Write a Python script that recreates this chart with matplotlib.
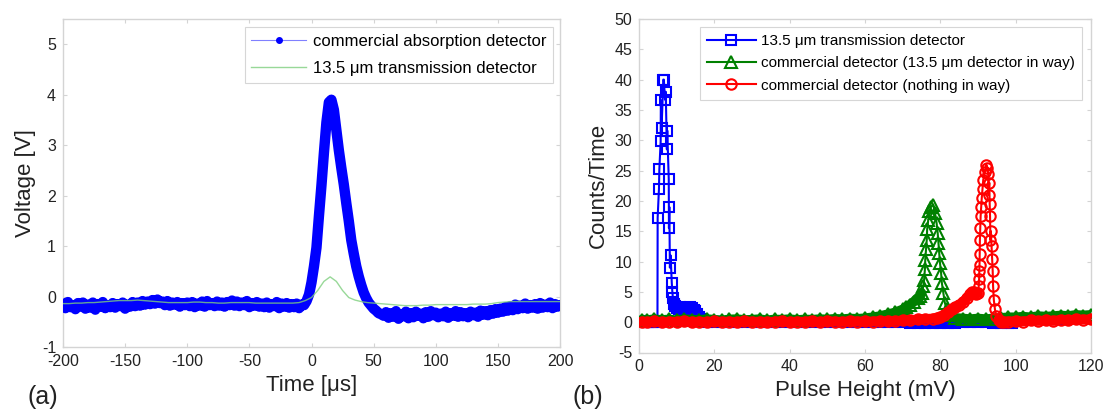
import numpy as np
import matplotlib
matplotlib.use("Agg")
import matplotlib.pyplot as plt

plt.rcParams['font.family'] = ['Liberation Sans', 'DejaVu Sans']
plt.rcParams['axes.unicode_minus'] = False

# ---------------- Panel (a) data ----------------
time_us = np.arange(-200, 201, 2)
volt_commercial = [
    -0.14, -0.23, -0.11, -0.21, -0.17, -0.25, -0.13, -0.20, -0.12, -0.24,
    -0.16, -0.22, -0.12, -0.26, -0.15, -0.20, -0.11, -0.23, -0.17, -0.21,
    -0.13, -0.22, -0.15, -0.19, -0.12, -0.24, -0.16, -0.20, -0.11, -0.19,
    -0.12, -0.18, -0.09, -0.16, -0.10, -0.15, -0.07, -0.14, -0.06, -0.13,
    -0.10, -0.17, -0.09, -0.18, -0.12, -0.16, -0.11, -0.20, -0.13, -0.17,
    -0.12, -0.19, -0.11, -0.21, -0.14, -0.18, -0.10, -0.20, -0.09, -0.17,
    -0.13, -0.19, -0.10, -0.18, -0.12, -0.20, -0.11, -0.17, -0.08, -0.18,
    -0.10, -0.19, -0.12, -0.17, -0.09, -0.21, -0.13, -0.18, -0.11, -0.20,
    -0.14, -0.21, -0.12, -0.22, -0.15, -0.19, -0.11, -0.23, -0.14, -0.20,
    -0.13, -0.22, -0.15, -0.21, -0.14, -0.23, -0.16, -0.17, -0.09, 0.04,
    0.28, 0.60, 0.97, 1.60, 2.20, 2.85, 3.45, 3.85, 3.90, 3.70,
    3.30, 2.90, 2.55, 2.22, 1.85, 1.50, 1.12, 0.85, 0.60, 0.40,
    0.23, 0.08, -0.03, -0.12, -0.18, -0.24, -0.28, -0.33, -0.35, -0.38,
    -0.31, -0.42, -0.33, -0.40, -0.29, -0.44, -0.35, -0.39, -0.30, -0.43,
    -0.33, -0.41, -0.30, -0.38, -0.34, -0.43, -0.31, -0.40, -0.29, -0.37,
    -0.32, -0.41, -0.34, -0.39, -0.30, -0.42, -0.33, -0.38, -0.29, -0.40,
    -0.31, -0.39, -0.33, -0.41, -0.30, -0.37, -0.32, -0.40, -0.28, -0.36,
    -0.29, -0.37, -0.27, -0.34, -0.25, -0.32, -0.24, -0.30, -0.21, -0.28,
    -0.19, -0.27, -0.16, -0.25, -0.18, -0.23, -0.14, -0.24, -0.17, -0.22,
    -0.15, -0.24, -0.13, -0.22, -0.16, -0.21, -0.12, -0.23, -0.15, -0.20,
    -0.17,
]
time_green = np.arange(-200, 201, 5)
volt_transmission = [
    -0.14, -0.14, -0.13, -0.13, -0.12, -0.12, -0.11, -0.10, -0.09, -0.08,
    -0.08, -0.08, -0.07, -0.08, -0.09, -0.10, -0.11, -0.12, -0.12, -0.12,
    -0.12, -0.11, -0.11, -0.12, -0.12, -0.13, -0.13, -0.12, -0.12, -0.12,
    -0.12, -0.13, -0.13, -0.13, -0.13, -0.13, -0.13, -0.13, -0.12, -0.08,
    -0.02, 0.12, 0.30, 0.39, 0.30, 0.12, -0.02, -0.07, -0.10, -0.12,
    -0.13, -0.14, -0.15, -0.16, -0.17, -0.18, -0.18, -0.18, -0.17, -0.17,
    -0.16, -0.16, -0.16, -0.16, -0.16, -0.16, -0.15, -0.15, -0.15, -0.14,
    -0.12, -0.11, -0.10, -0.10, -0.10, -0.10, -0.10, -0.10, -0.10, -0.10,
    -0.10,
]
legend_a = ['commercial absorption detector', '13.5 \u03bcm transmission detector']

# ---------------- Panel (b) data ----------------
ph_trans = ([0.5, 1.5, 2.5, 3.5, 4.5, 4.9, 4.95, 5.3, 5.4, 5.75, 5.8, 6.0, 6.45, 6.6,
             6.9, 7.1, 7.4, 7.5, 7.9, 7.95, 8.05, 8.2, 8.4, 8.7, 8.85, 9.0, 9.2, 9.5,
             10, 10.5, 11, 11.5, 12, 12.5, 13, 13.5, 14, 14.5, 15, 15.5, 16, 16.5, 17]
            + list(np.arange(18, 99, 2)) + [99] + list(np.arange(100, 121, 2)) + [121])
cnt_trans = ([0.2, 0.0, 0.1, 0.0, 0.1, 0.0, 17.2, 22.0, 25.2, 29.8, 36.6, 32.1, 40.0, 40.0,
              36.7, 38.0, 28.5, 31.6, 23.6, 15.5, 19.0, 9.0, 11.0, 6.5, 5.0, 4.0, 3.0, 2.6,
              2.4, 2.2, 2.5, 2.3, 2.1, 2.4, 2.2, 2.5, 2.3, 2.0, 1.8, 1.3, 0.9, 0.6, 0.3]
             + [0.1, 0.0, 0.05, -0.05, 0.0, 0.05, -0.05, 0.0, 0.05, -0.05,
                0.0, 0.05, -0.05, 0.0, 0.05, -0.05, 0.0, 0.05, -0.05, 0.0,
                -0.05, 0.0, -0.05, 0.0, -0.05, -0.05, 0.0, -0.1, -0.15, -0.1,
                -0.15, -0.1, -0.15, -0.1, -0.05, -0.05, 0.0, -0.05, -0.1, -0.15,
                -0.2]
             + [-0.2]
             + [0.5, 0.6, 0.5, 0.7, 0.6, 0.7, 0.6, 0.8, 0.7, 0.8, 0.9] + [1.0])

ph_comm_way = ([0.7] + list(np.arange(2, 59, 2))
               + [60, 62, 64, 66, 68, 70, 71, 72, 73, 74, 74.6, 75.0,
                  75.5, 75.7, 75.9, 76.0, 76.2, 76.4, 76.5, 76.8, 77.1, 77.5, 78.1,
                  78.6, 79.0, 79.3, 79.5, 79.7, 79.9, 80.2, 80.4, 80.8, 81.2, 81.7, 82.5]
               + list(np.arange(84, 99, 2)) + list(np.arange(100, 121, 2)) + [121])
cnt_comm_way = ([0.4, 0.3, 0.5, 0.35, 0.45, 0.3, 0.5, 0.4, 0.35, 0.5,
                 0.4, 0.3, 0.45, 0.5, 0.35, 0.4, 0.5, 0.3, 0.45, 0.4,
                 0.5, 0.35, 0.45, 0.4, 0.5, 0.45, 0.55, 0.5, 0.6, 0.55]
                + [0.65, 0.8, 1.0, 1.3, 1.6, 2.1, 2.5, 2.9, 3.4, 4.0, 4.4, 4.8,
                   6.0, 7.0, 8.7, 10.3, 12.0, 13.6, 15.3, 16.9, 18.3, 19.0, 19.4,
                   18.0, 16.4, 14.7, 13.1, 11.4, 9.8, 8.1, 6.5, 4.8, 3.2, 2.1, 1.2]
                + [0.7, 0.6, 0.5, 0.6, 0.5, 0.6, 0.7, 0.8]
                + [0.8, 0.9, 0.8, 1.0, 0.9, 1.0, 1.1, 1.0, 1.2, 1.1, 1.2] + [1.1])

ph_comm_free = ([0.7] + list(np.arange(2, 67, 2))
                + [68, 70, 72, 74, 76, 78, 79, 80, 81, 82, 83, 84, 85, 86, 87, 88, 88.5, 89, 89.5, 90,
                   90.2, 90.3, 90.35, 90.4, 90.45, 90.5, 90.6, 90.7, 90.85, 91.0, 91.2, 91.4, 91.8, 92.2,
                   92.5, 92.7, 92.8, 93.0, 93.1, 93.2, 93.3, 93.4, 93.6, 93.75, 93.9, 94.0, 94.2, 94.5, 94.9, 95.5]
                + [96, 97, 98] + list(np.arange(100, 121, 2)) + [121])
cnt_comm_free = ([0.1, 0.0, 0.15, -0.05, 0.1, 0.05, 0.2, 0.0, 0.1, -0.05,
                  0.15, 0.05, 0.1, 0.0, 0.2, 0.05, 0.1, -0.05, 0.1, 0.15,
                  0.0, 0.1, 0.05, 0.2, 0.0, 0.15, 0.1, 0.05, 0.2, 0.1,
                  0.15, 0.1, 0.2, 0.15]
                 + [0.2, 0.3, 0.35, 0.45, 0.55, 0.6, 0.7, 0.8, 1.2, 1.6, 2.1, 2.5, 2.8, 3.3, 4.0, 4.7, 5.0, 4.9, 4.6, 4.8,
                    6.0, 7.2, 8.5, 9.5, 11.3, 13.5, 15.5, 17.5, 19.0, 20.5, 22.0, 23.5, 24.8, 26.0,
                    25.5, 24.5, 21.0, 23.0, 19.5, 17.5, 13.5, 15.0, 12.5, 10.5, 8.5, 6.0, 3.7, 2.1, 1.0, 0.3]
                 + [0.1, 0.0, 0.1]
                 + [0.2, 0.1, 0.3, 0.2, 0.3, 0.2, 0.4, 0.3, 0.5, 0.4, 0.5] + [0.5])

legend_b = ['13.5 \u03bcm transmission detector',
            'commercial detector (13.5 \u03bcm detector in way)',
            'commercial detector (nothing in way)']

# ---------------- Figure ----------------
W, H = 1103, 412
fig = plt.figure(figsize=(W / 100, H / 100), dpi=100)
text_col = '#222222'
spine_col = '#d4d4d4'


def style_axes(ax):
    for s in ax.spines.values():
        s.set_color(spine_col)
        s.set_linewidth(1.0)
    ax.tick_params(direction='in', length=3, width=0.8, color=spine_col,
                   top=True, right=True, labelsize=11.5, labelcolor=text_col, pad=5)


# Panel (a)
ax1 = fig.add_axes([63 / W, 1 - 347 / H, (560 - 63) / W, (347 - 19) / H])
ax1.plot(time_us, volt_commercial, color='#8080ff', lw=0.8, marker='.', ms=8,
         mfc='#0000ff', mec='#0000ff', label=legend_a[0], zorder=2)
ax1.plot(time_us, volt_commercial, color='#0000ff', lw=7.5, solid_joinstyle='round',
         solid_capstyle='round', zorder=3)
ax1.plot(time_green, volt_transmission, color='#7fcf7f', lw=1.0, alpha=0.8,
         label=legend_a[1], zorder=4)
ax1.set_xlim(-200, 200)
ax1.set_ylim(-1, 5.5)
ax1.set_xticks(np.arange(-200, 201, 50))
ax1.set_yticks(np.arange(-1, 6, 1))
style_axes(ax1)
ax1.set_xlabel('Time [\u03bcs]', fontsize=16, color=text_col, labelpad=4)
ax1.set_ylabel('Voltage [V]', fontsize=16, color=text_col, labelpad=4)
leg1 = ax1.legend(loc='upper right', bbox_to_anchor=(0.986, 0.976), borderaxespad=0,
                  fontsize=12, frameon=True, fancybox=False, handlelength=3.3,
                  handletextpad=0.4, labelspacing=0.75, borderpad=0.4)
leg1.get_frame().set_edgecolor('#cccccc')
leg1.get_frame().set_linewidth(0.8)

# Panel (b)
ax2 = fig.add_axes([639 / W, 1 - 352.5 / H, (1091 - 639) / W, (352.5 - 19) / H])
series = [
    (ph_trans, cnt_trans, '#0000ff', 's', 7.5, legend_b[0], lambda x: (x <= 4.9) | (x >= 17)),
    (ph_comm_way, cnt_comm_way, '#008000', '^', 8.5, legend_b[1], lambda x: (x <= 75.0) | (x >= 82.5)),
    (ph_comm_free, cnt_comm_free, '#ff0000', 'o', 7.5, legend_b[2], lambda x: (x <= 90.0) | (x >= 95.5)),
]
for i, (xs, ys, col, mk, ms, lab, band_sel) in enumerate(series):
    xs = np.asarray(xs, dtype=float)
    ys = np.asarray(ys, dtype=float)
    ax2.plot(xs, ys, color=col, lw=1.5, marker=mk, ms=ms, mfc='none', mec=col,
             mew=1.5, label=lab, zorder=2 + i)
    sel = band_sel(xs)
    bx = np.where(sel, xs, np.nan)
    by = np.where(sel, ys, np.nan)
    ax2.plot(bx, by, color=col, lw=7, solid_capstyle='round', solid_joinstyle='round',
             zorder=2 + i)
ax2.set_xlim(0, 120)
ax2.set_ylim(-5, 50)
ax2.set_xticks(np.arange(0, 121, 20))
ax2.set_yticks(np.arange(-5, 51, 5))
style_axes(ax2)
ax2.set_xlabel('Pulse Height (mV)', fontsize=16, color=text_col, labelpad=4)
ax2.set_ylabel('Counts/Time', fontsize=16, color=text_col, labelpad=4)
leg2 = ax2.legend(loc='upper left', bbox_to_anchor=(0.135, 0.976), borderaxespad=0,
                  fontsize=11, frameon=True, fancybox=False, handlelength=3.2,
                  handletextpad=0.35, labelspacing=0.55, borderpad=0.45)
leg2.get_frame().set_edgecolor('#cccccc')
leg2.get_frame().set_linewidth(0.8)

fig.text(43 / W, 1 - 397 / H, '(a)', fontsize=18, color=text_col, ha='center', va='center')
fig.text(588 / W, 1 - 397 / H, '(b)', fontsize=18, color=text_col, ha='center', va='center')

fig.savefig('out.png', dpi=100)
